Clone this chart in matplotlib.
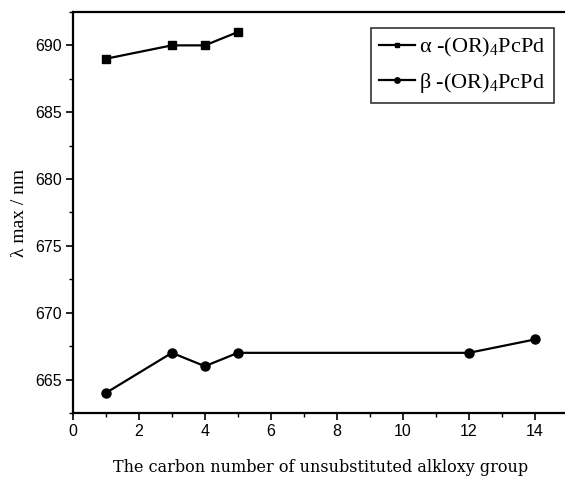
import matplotlib
matplotlib.use("Agg")
import matplotlib.pyplot as plt
from matplotlib.ticker import MultipleLocator

plt.rcParams["mathtext.fontset"] = "custom"
plt.rcParams["mathtext.rm"] = "Liberation Serif"
plt.rcParams["mathtext.it"] = "Liberation Serif"
plt.rcParams["mathtext.default"] = "rm"

alpha_x = [1, 3, 4, 5]
alpha_y = [689, 690, 690, 691]
beta_x = [1, 3, 4, 5, 12, 14]
beta_y = [664, 667, 666, 667, 667, 668]
xticks = [0, 2, 4, 6, 8, 10, 12, 14]
yticks = [665, 670, 675, 680, 685, 690]

fig = plt.figure(figsize=(5.65, 4.78), dpi=100)
ax = fig.add_axes([0.129, 0.136, 0.876, 0.839])

ax.plot(alpha_x, alpha_y, color="black", lw=1.6, marker="s", ms=6,
        label="α -(OR)$_4$PcPd")
ax.plot(beta_x, beta_y, color="black", lw=1.6, marker="o", ms=6.5,
        label="β -(OR)$_4$PcPd")

ax.set_xlim(0, 15)
ax.set_ylim(662.5, 692.5)
ax.set_xticks(xticks)
ax.set_yticks(yticks)
ax.xaxis.set_minor_locator(MultipleLocator(1))
ax.yaxis.set_minor_locator(MultipleLocator(2.5))
ax.spines["right"].set_visible(False)
for s in ["left", "bottom", "top"]:
    ax.spines[s].set_linewidth(1.6)
ax.tick_params(which="major", direction="out", length=5, width=1.2,
               labelsize=11.5, pad=3)
ax.tick_params(which="minor", direction="out", length=3, width=1)
for lab in ax.get_xticklabels() + ax.get_yticklabels():
    lab.set_family("Liberation Sans")

ax.set_xlabel("The carbon number of unsubstituted alkloxy group",
              family="DejaVu Serif", fontsize=11.5, labelpad=14)
ax.set_ylabel("λ max / nm", family="Liberation Serif", fontsize=14,
              labelpad=5)

leg = ax.legend(loc="upper right", bbox_to_anchor=(0.972, 0.96),
                prop={"family": "Liberation Serif", "size": 16},
                frameon=True, fancybox=False, edgecolor="black",
                handlelength=1.6, markerscale=0.6, borderpad=0.38,
                labelspacing=0.5, handletextpad=0.2, borderaxespad=0.0)
leg.get_frame().set_linewidth(1.2)

fig.savefig("out.png", dpi=100)
